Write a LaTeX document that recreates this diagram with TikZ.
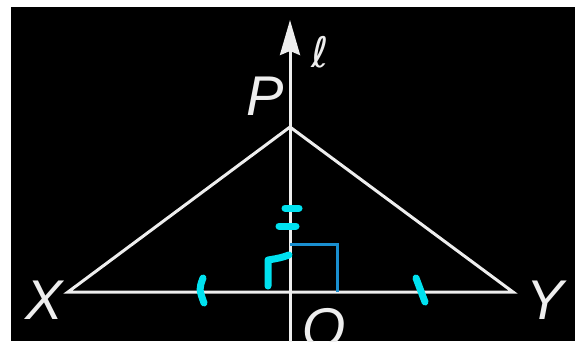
\documentclass[tikz,border=0pt]{standalone}
\usepackage{fontspec}
\setmainfont{Liberation Sans}
\newfontfamily\ellfont{DejaVu Sans}
\usetikzlibrary{arrows.meta}
\definecolor{tickcyan}{HTML}{00E2F0}
\definecolor{rablue}{HTML}{1A8FD0}
\definecolor{chalk}{HTML}{EEEEEE}

\begin{document}
\begin{tikzpicture}[x=1pt, y=-1pt,
  edge/.style={draw=chalk, line width=3pt},
  lbl/.style={text=chalk, inner sep=0pt, font=\fontsize{56}{60}\selectfont\itshape},
  tickline/.style={draw=tickcyan, line width=7pt, line cap=round, line join=round}]
  % board
  \fill[white] (0,0) rectangle (580,341);
  \clip (0,0) rectangle (580,341);
  \fill[black] (11,7) rectangle (575,341);

  % points
  \coordinate (P) at (290,127);
  \coordinate (X) at (68,292);
  \coordinate (Y) at (513,292);
  \coordinate (Q) at (290,292);
  \coordinate (ltop) at (290,20);
  \coordinate (lbot) at (290,350);

  % line l and triangle
  \draw[edge, -{Stealth[length=35pt, width=20pt, inset=4pt]}] (lbot) -- (ltop);
  \draw[edge] (X) -- (P) -- (Y) -- cycle;

  % right angle at Q
  \draw[rablue, line width=3pt] (Q) ++(0,-48) -- ++(47,0) -- ++(0,48);

  % cyan marks
  \draw[tickline] (203,278) .. controls (199,289) .. (204,303);
  \draw[tickline] (416,278) -- (425,302);
  \draw[tickline] (285,208) -- (299,208);
  \draw[tickline] (279,226) -- (296,226);
  \draw[tickline] (268,286) -- (268,260) .. controls (280,258) .. (289,255);

  % labels
  \node[lbl] (labX) at (44,300) {X};
  \node[lbl] (labY) at (545,300) {Y};
  \node[lbl] (labP) at (265,96) {P};
  \node[lbl] (labQ) at (324,333) {Q};
  \node[lbl, font=\fontsize{42}{46}\selectfont\ellfont\itshape] (labl) at (320,52) {ℓ};
\end{tikzpicture}
\end{document}
